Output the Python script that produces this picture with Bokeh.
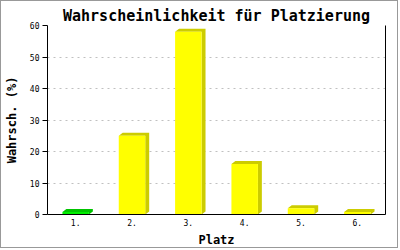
from bokeh.plotting import figure
from bokeh.models import Range1d, LinearAxis, FixedTicker, ColumnDataSource
from bokeh.embed import file_html
from bokeh.resources import INLINE

# ---- data ----
places = ["1.", "2.", "3.", "4.", "5.", "6."]
probs = [0.8, 25, 58, 16, 2, 0.8]
y_ticks = [0, 10, 20, 30, 40, 50, 60]
front_colors = ["#00ee00", "#ffff00", "#ffff00", "#ffff00", "#ffff00", "#ffff00"]
side_colors = ["#00c400", "#cccc00", "#cccc00", "#cccc00", "#cccc00", "#cccc00"]

# ---- geometry / style ----
W, H = 398, 248
ML, MR, MT, MB = 42, 14, 24, 35
FW, FH = W - ML - MR, H - MT - MB
XMIN, XMAX, YMIN, YMAX = 0.5, 6.5, 0, 60
BAR_W = 0.47
DX = 4 * (XMAX - XMIN) / FW
DY = 3 * (YMAX - YMIN) / FH
MONO = "DejaVu Sans Mono"

xs_pos = list(range(1, len(places) + 1))

p = figure(width=W, height=H, output_backend="svg", toolbar_location=None,
           x_range=Range1d(XMIN, XMAX), y_range=Range1d(YMIN, YMAX),
           min_border_left=ML, min_border_right=MR, min_border_top=MT,
           min_border_bottom=MB, background_fill_color="white",
           border_fill_color="white",
           styles={"border": "1px solid #999999"})
p.outline_line_color = None

# 3D side/top faces
poly_x, poly_y = [], []
for xc, v in zip(xs_pos, probs):
    x0, x1 = xc - BAR_W / 2, xc + BAR_W / 2
    poly_x.append([x0, x0 + DX, x1 + DX, x1 + DX, x1, x1])
    poly_y.append([v, v + DY, v + DY, DY, 0, v])
p.patches(poly_x, poly_y, fill_color=side_colors, line_color=None)

src = ColumnDataSource(dict(x=xs_pos, top=probs, color=front_colors))
p.vbar(x="x", top="top", bottom=0, width=BAR_W, fill_color="color",
       line_color=None, source=src)

# title
p.title.text = "Wahrscheinlichkeit für Platzierung"
p.title.text_font = MONO
p.title.text_font_size = "15px"
p.title.text_font_style = "bold"
p.title.text_color = "black"
p.title.align = "center"
p.title.offset = -14
p.title.standoff = 1

# axes
p.xaxis.ticker = FixedTicker(ticks=xs_pos)
p.xaxis.major_label_overrides = {i: lab for i, lab in zip(xs_pos, places)}
p.xaxis.major_tick_line_color = None
p.xaxis.major_tick_in = 0
p.xaxis.major_tick_out = 0
p.xaxis.minor_tick_line_color = None
p.xaxis.minor_tick_out = 0
p.xaxis.axis_label = "Platz"

p.yaxis.ticker = FixedTicker(ticks=y_ticks)
p.yaxis.major_tick_in = 0
p.yaxis.major_tick_out = 5
p.yaxis.minor_tick_line_color = None
p.yaxis.minor_tick_out = 0
p.yaxis.axis_label = "Wahrsch. (%)"

for ax in (p.xaxis[0], p.yaxis[0]):
    ax.axis_line_color = "black"
    ax.axis_line_width = 1
    ax.major_label_text_font = MONO
    ax.major_label_text_font_size = "8px"
    ax.major_label_text_color = "black"
    ax.axis_label_text_font = MONO
    ax.axis_label_text_font_size = "12px"
    ax.axis_label_text_font_style = "bold"
    ax.axis_label_text_color = "black"
p.xaxis.major_label_standoff = 4
p.xaxis.axis_label_standoff = 4
p.yaxis.major_label_standoff = 3
p.yaxis.axis_label_standoff = 8

right = LinearAxis(ticker=FixedTicker(ticks=[]), axis_line_color="black",
                   major_tick_line_color=None, minor_tick_line_color=None,
                   major_tick_out=0, minor_tick_out=0)
p.add_layout(right, "right")

p.xgrid.visible = False
p.ygrid.grid_line_color = "#c0c0c0"
p.ygrid.grid_line_dash = "2 4"

open("out.html", "w").write(file_html(p, INLINE))
